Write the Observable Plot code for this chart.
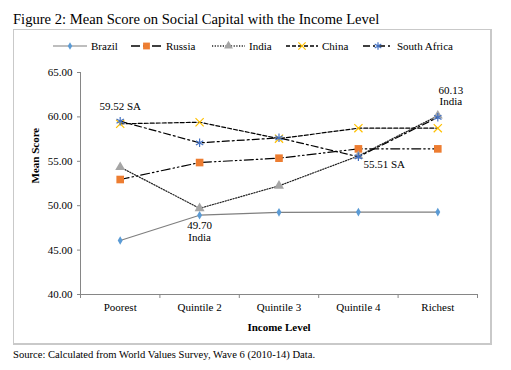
<!DOCTYPE html>
<html>
<head>
<meta charset="utf-8">
<script src="https://cdn.jsdelivr.net/npm/d3@7"></script>
<script src="https://cdn.jsdelivr.net/npm/@observablehq/plot@0.6"></script>
<style>
  html, body { margin: 0; padding: 0; background: #fff; }
  body { width: 511px; height: 370px; position: relative; overflow: hidden; font-family: 'Liberation Serif', serif; color: #000; }
  #title { position: absolute; left: 13px; top: 11px; font-size: 14.6px; white-space: nowrap; }
  #box { position: absolute; left: 13px; top: 29px; width: 476px; height: 313px; border: 1px solid #c9c9c9; border-right-width: 2px; border-bottom-width: 2px; }
  #legend { position: absolute; left: 13px; top: 36px; }
  #chart { position: absolute; left: 13px; top: 60px; }
  #source { position: absolute; left: 13px; top: 349px; font-size: 10.6px; white-space: nowrap; }
  svg, svg text { font-family: 'Liberation Serif', serif !important; }
</style>
</head>
<body>
<div id="title">Figure 2: Mean Score on Social Capital with the Income Level</div>
<div id="box"></div>
<div id="legend"></div>
<div id="chart"></div>
<div id="source">Source: Calculated from World Values Survey, Wave 6 (2010-14) Data.</div>
<script>
// ---- data ----
const categories = ["Poorest", "Quintile 2", "Quintile 3", "Quintile 4", "Richest"];
const brazil      = [46.08, 48.93, 49.25, 49.28, 49.28];
const russia      = [52.95, 54.86, 55.35, 56.40, 56.40];
const india       = [54.34, 49.70, 52.24, 55.60, 60.13];
const china       = [59.22, 59.40, 57.55, 58.73, 58.73];
const southAfrica = [59.52, 57.08, 57.64, 55.51, 59.95];
const yTicks = [40, 45, 50, 55, 60, 65];
const seriesNames = ["Brazil", "Russia", "India", "China", "South Africa"];

const FONT = "'Liberation Serif', serif";

// ---- styles ----
const styles = {
  "Brazil":       {values: brazil,      line: "#7f7f7f", dash: null,              symbol: "diamond",  fill: "#5B9BD5", r: 2.6, strokeSym: false, d3sym: d3.symbolDiamond},
  "Russia":       {values: russia,      line: "#000",    dash: "9,3,1.5,3,1.5,3", symbol: "square",   fill: "#ED7D31", r: 4.3, strokeSym: false, d3sym: d3.symbolSquare},
  "India":        {values: india,       line: "#222",    dash: "1.2,1.5",         symbol: "triangle", fill: "#A5A5A5", r: 3.7, strokeSym: false, d3sym: d3.symbolTriangle},
  "China":        {values: china,       line: "#000",    dash: "4,2",             symbol: "times",    fill: "#FFC000", r: 3.8, strokeSym: true,  d3sym: d3.symbolTimes},
  "South Africa": {values: southAfrica, line: "#000",    dash: "7,3,2,3",         symbol: "asterisk", fill: "#4472C4", r: 4.0, strokeSym: true,  d3sym: d3.symbolAsterisk}
};

const rows = seriesNames.map(s => categories.map((c, i) => ({series: s, cat: c, idx: i + 0.5, value: styles[s].values[i]})));

const annotations = [
  {series: "South Africa", cat: "Poorest",    text: "59.52 SA"},
  {series: "India",        cat: "Quintile 2", text: "49.70\nIndia"},
  {series: "South Africa", cat: "Quintile 4", text: "55.51 SA"},
  {series: "India",        cat: "Richest",    text: "60.13\nIndia"}
];
const ann = annotations.map(a => ({...a, idx: categories.indexOf(a.cat) + 0.5, value: styles[a.series].values[categories.indexOf(a.cat)]}));

const marks = [];
marks.push(Plot.ruleX([0], {stroke: "#868686", strokeWidth: 1}));
marks.push(Plot.ruleY([40], {stroke: "#868686", strokeWidth: 1}));
marks.push(Plot.axisY({ticks: yTicks, tickFormat: d => d.toFixed(2), tickSize: 3, tickPadding: 5, stroke: "#868686", fontSize: 11, fontFamily: FONT, label: null}));
marks.push(Plot.axisX({ticks: categories.map((c, i) => i + 0.5), tickFormat: d => categories[Math.round(d - 0.5)], tickSize: 0, tickPadding: 9, fontSize: 11, fontFamily: FONT, label: null}));
marks.push(Plot.axisX({ticks: [0, 1, 2, 3, 4, 5], tickFormat: () => "", tickSize: 4, stroke: "#868686", label: null}));

seriesNames.forEach((s, k) => {
  const st = styles[s];
  marks.push(Plot.line(rows[k], {x: "idx", y: "value", stroke: st.line, strokeWidth: 1.2, strokeDasharray: st.dash}));
  if (st.strokeSym) {
    marks.push(Plot.dot(rows[k], {x: "idx", y: "value", symbol: st.symbol, r: st.r, stroke: st.fill, strokeWidth: 1.2, fill: "none"}));
  } else {
    marks.push(Plot.dot(rows[k], {x: "idx", y: "value", symbol: st.symbol, r: st.r, fill: st.fill, stroke: "none"}));
  }
});

// annotations
marks.push(Plot.text([ann[0]], {x: "idx", y: "value", text: "text", dy: -15, fontSize: 11, fontFamily: FONT}));
marks.push(Plot.text([ann[1]], {x: "idx", y: "value", text: "text", dy: 23, fontSize: 11, lineHeight: 1.05, fontFamily: FONT}));
marks.push(Plot.text([ann[2]], {x: "idx", y: "value", text: "text", dx: 5, dy: 8, textAnchor: "start", fontSize: 11, fontFamily: FONT}));
marks.push(Plot.text([ann[3]], {x: "idx", y: "value", text: "text", dx: 13, dy: -20, fontSize: 11, lineHeight: 1.05, fontFamily: FONT}));

// axis titles
marks.push(Plot.text(["Mean Score"], {frameAnchor: "left", dx: -45, rotate: -90, fontSize: 11, fontWeight: "bold", fontFamily: FONT}));
marks.push(Plot.text(["Income Level"], {frameAnchor: "bottom", dy: 36, fontSize: 11, fontWeight: "bold", fontFamily: FONT}));

const chart = Plot.plot({
  width: 477,
  height: 283,
  marginLeft: 67,
  marginRight: 13,
  marginTop: 12,
  marginBottom: 49,
  x: {type: "linear", domain: [0, 5], axis: null},
  y: {domain: [40, 65], axis: null},
  style: {fontFamily: FONT, fontSize: "11px", color: "#000", background: "transparent", overflow: "visible"},
  marks
});
document.getElementById("chart").appendChild(chart);

// ---- legend ----
const legendItems = [
  {name: "Brazil",       x0: 40,  x1: 74},
  {name: "Russia",       x0: 118, x1: 149},
  {name: "India",        x0: 199, x1: 232},
  {name: "China",        x0: 273, x1: 305},
  {name: "South Africa", x0: 350, x1: 380}
];
const lg = d3.select("#legend").append("svg").attr("width", 477).attr("height", 20);
legendItems.forEach(it => {
  const st = styles[it.name];
  const g = lg.append("g");
  g.append("line").attr("x1", it.x0).attr("x2", it.x1).attr("y1", 10).attr("y2", 10)
    .attr("stroke", st.line).attr("stroke-width", it.name === "Brazil" ? 1.2 : 1.6)
    .attr("stroke-dasharray", st.dash);
  const cx = (it.x0 + it.x1) / 2;
  const size = Math.PI * st.r * st.r * 0.8;
  const p = g.append("path").attr("d", d3.symbol(st.d3sym, size)()).attr("transform", `translate(${cx},10)`);
  if (st.strokeSym) p.attr("fill", "none").attr("stroke", st.fill).attr("stroke-width", 1.2);
  else p.attr("fill", st.fill);
  g.append("text").attr("x", it.x1 + 4).attr("y", 10).attr("dy", "0.35em").attr("font-size", 11).attr("font-family", FONT).text(it.name);
});
</script>
</body>
</html>
